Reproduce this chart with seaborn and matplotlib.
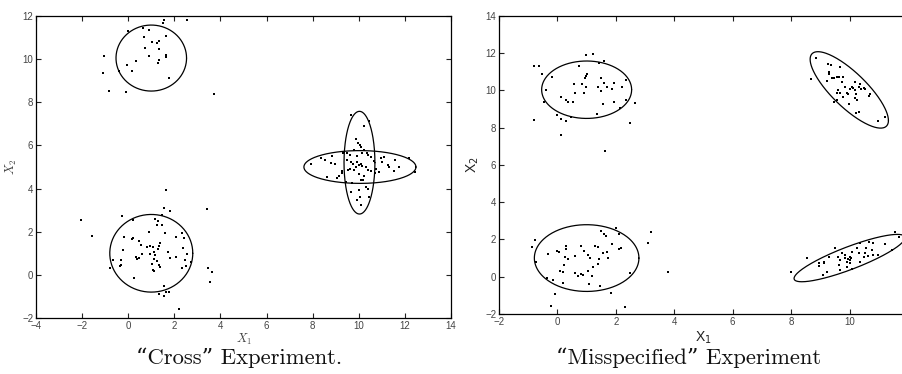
import numpy as np
import pandas as pd
import matplotlib
matplotlib.use("Agg")
import matplotlib.pyplot as plt
import seaborn as sns

# ---------------- "Cross" experiment data ----------------
cross_a_x = [1.57, 2.55, 1.51, 0.0, 0.62, 0.88, 1.65, 0.67, 1.03, 1.25, 1.35, 0.74, 1.32, -1.07,
             0.90, 1.64, 1.65, 1.33, 0.32, 1.29, -0.04, -1.09, 0.16, -0.42, 1.75, -0.83, -0.09, 3.71]
cross_a_y = [11.81, 11.81, 11.69, 11.32, 11.46, 11.35, 11.07, 11.01, 10.78, 10.76, 10.84, 10.53, 10.48, 10.16,
             10.16, 10.19, 10.11, 9.96, 9.91, 9.80, 9.74, 9.37, 9.46, 9.45, 9.11, 8.52, 8.46, 8.39]

cross_b_x = [1.65, 1.54, 1.80, 3.43, -2.06, -0.27, 0.20, 1.46, 1.17, 1.28, 1.25, 1.48, -1.59, -0.17,
             0.16, 0.20, 0.91, 1.59, 2.07, 2.33, 2.43, 0.45, 0.55, 0.80, 0.96, 1.07, 1.32, 1.36, 1.27,
             -0.23, 2.38, 0.61, 0.93, 1.10, 1.17, 1.72, 2.55, 0.35, 0.45, 0.38, -0.32, -0.64, 1.13, 1.25,
             1.83, 2.09, 2.48, 2.72, -0.32, -0.35, -0.81, 1.03, 1.33, 1.36, 2.33, 2.52, 1.07, 1.10, 0.26,
             3.48, 3.64, 3.56, 1.54, 1.65, 1.77, 1.33, 1.56, 2.20]
cross_b_y = [3.93, 3.12, 2.95, 3.03, 2.55, 2.73, 2.56, 2.77, 2.61, 2.49, 2.33, 2.30, 1.79, 1.76,
             1.68, 1.71, 1.99, 1.95, 1.76, 1.96, 1.71, 1.56, 1.37, 1.30, 1.34, 1.28, 1.34, 1.47, 1.22,
             1.17, 1.25, 0.99, 0.99, 1.06, 0.91, 1.06, 0.96, 0.83, 0.79, 0.72, 0.68, 0.68, 0.72, 0.63,
             0.76, 0.83, 0.68, 0.60, 0.48, 0.42, 0.32, 0.49, 0.48, 0.37, 0.32, 0.42, 0.21, 0.17, -0.14,
             0.32, 0.11, -0.33, -0.51, -0.79, -0.79, -0.88, -0.98, -1.58]

cross_c_x = [9.68, 10.45, 10.23, 9.87, 9.97, 10.06, 10.09, 9.80, 10.23, 10.35, 10.16, 9.48, 9.62, 9.91,
             10.42, 10.52, 8.85, 8.35, 8.52, 8.81, 8.99, 7.91, 10.96, 11.10, 11.58, 12.19, 10.99, 10.64,
             11.28, 11.32, 11.74, 12.46, 11.51, 9.51, 9.65, 9.77, 9.94, 10.01, 10.09, 10.16, 9.87, 9.62,
             9.54, 9.80, 10.30, 10.38, 10.52, 10.74, 10.88, 10.70, 9.29, 9.26, 8.61, 9.07, 10.01, 10.23,
             10.09, 10.20, 9.43, 9.72, 10.30, 10.42, 10.01, 9.65, 10.45, 10.06, 9.94, 10.09, 9.33, 9.14]
cross_c_y = [7.42, 7.14, 6.91, 6.28, 6.09, 6.01, 5.94, 5.81, 5.78, 5.66, 5.63, 5.63, 5.55, 5.50,
             5.55, 5.47, 5.50, 5.40, 5.32, 5.19, 5.13, 5.16, 5.40, 5.47, 5.32, 5.40, 5.24, 5.29,
             5.09, 5.01, 5.01, 4.78, 4.82, 5.32, 5.24, 5.13, 5.24, 5.09, 5.16, 5.04, 5.01, 4.93,
             4.85, 4.85, 5.01, 4.85, 4.82, 4.93, 4.78, 4.70, 4.82, 4.70, 4.54, 4.51, 4.67, 4.58,
             4.39, 4.42, 4.31, 4.24, 4.08, 4.00, 3.93, 3.85, 3.62, 3.59, 3.46, 3.23, 5.63, 4.58]

# fitted components (centre, half-extent in x / y, correlation)
cross_ell_cx = [1.0, 1.0, 10.05, 10.03]
cross_ell_cy = [10.05, 1.0, 5.0, 5.2]
cross_ell_hx = [1.53, 1.80, 2.43, 0.67]
cross_ell_hy = [1.53, 1.80, 0.76, 2.38]
cross_ell_rho = [0.0, 0.0, 0.0, 0.0]

# ---------------- "Misspecified" experiment data ----------------
mis_a_x = [0.97, 1.23, -0.79, -0.63, 0.74, 1.60, 1.42, -0.54, -0.20, 1.00, 0.97, 0.94, 1.49, 1.60,
           1.95, 0.56, 0.83, 0.97, 1.38, 1.69, 1.88, 2.20, 2.36, 1.49, -0.38, 0.60, 0.92, 0.12, 0.31,
           0.37, 0.52, -0.46, 1.95, 2.36, 2.66, 1.57, 2.14, 1.34, -0.03, 0.12, 0.31, 0.47, -0.79, 2.49,
           0.12, 1.63]
mis_a_y = [11.91, 11.95, 11.30, 11.32, 11.30, 11.56, 11.45, 10.89, 10.72, 10.89, 10.77, 10.64, 10.66, 10.41,
           10.41, 10.36, 10.36, 10.18, 10.20, 10.16, 10.07, 10.16, 10.55, 9.96, 10.02, 9.84, 9.84, 9.62, 9.48,
           9.37, 9.39, 9.39, 9.39, 9.48, 9.34, 9.25, 9.03, 8.73, 8.66, 8.46, 8.37, 8.55, 8.41, 8.23,
           7.62, 6.75]

mis_b_x = [2.01, 1.48, 1.60, 1.66, 2.12, 3.19, 3.09, -0.77, -0.87, 0.29, 0.29, 0.80, 1.30, 1.40,
           1.88, 2.10, 2.17, -0.02, 0.05, 0.92, 1.05, 1.55, 1.71, -0.31, 0.60, 0.26, 0.35, 1.12, 1.42,
           1.72, -0.73, 1.40, 0.24, 1.23, 0.09, 0.20, 0.60, 0.69, 0.81, 0.86, 1.04, 1.18, 2.49, 3.80,
           -0.34, -0.16, 0.20, 1.09, 1.46, -0.09, 1.82, -0.23, 2.31]
mis_b_y = [2.63, 2.47, 2.29, 2.18, 2.29, 2.40, 1.83, 1.97, 1.58, 1.63, 1.49, 1.65, 1.66, 1.58,
           1.74, 1.47, 1.52, 1.38, 1.31, 1.40, 1.16, 1.27, 1.31, 1.22, 1.11, 1.04, 0.93, 0.98, 0.95,
           1.02, 0.81, 0.68, 0.63, 0.54, 0.32, 0.23, 0.22, 0.06, 0.14, 0.09, 0.31, 0.04, 0.22, 0.23,
           -0.07, -0.18, -0.34, -0.41, -0.50, -0.91, -0.87, -1.57, -1.61]

mis_c_x = [8.85, 8.67, 9.26, 9.37, 9.68, 9.28, 9.30, 9.39, 9.48, 9.56, 9.64, 9.79, 9.23, 9.85,
           9.74, 10.17, 10.36, 10.08, 10.13, 10.02, 10.19, 10.31, 10.40, 10.48, 10.53, 9.62, 9.56,
           9.68, 9.91, 9.96, 10.23, 10.71, 10.65, 9.79, 10.17, 10.25, 9.56, 9.48, 9.99, 10.33, 10.21,
           10.97, 11.20]
mis_c_y = [11.72, 10.59, 11.41, 11.34, 11.27, 11.00, 10.86, 10.64, 10.68, 10.70, 10.73, 10.73, 10.52, 10.20,
           10.46, 10.43, 10.34, 10.20, 10.11, 10.05, 10.02, 10.20, 10.05, 10.11, 10.05, 10.02, 9.87,
           9.87, 9.87, 9.80, 9.80, 9.80, 9.70, 9.62, 9.57, 9.48, 9.48, 9.36, 9.27, 8.86, 8.77,
           8.37, 8.59]

mis_d_x = [11.56, 11.70, 8.54, 8.94, 8.96, 9.11, 9.14, 9.22, 9.08, 9.28, 9.51, 9.60, 9.68, 9.64,
           9.68, 9.74, 9.85, 9.85, 9.91, 9.96, 10.00, 10.02, 10.05, 10.08, 10.02, 10.08, 9.91, 10.25,
           10.31, 10.36, 10.48, 10.56, 10.53, 10.63, 10.65, 10.76, 10.79, 10.79, 10.99, 11.20, 11.45,
           10.36, 7.99]
mis_d_y = [2.38, 2.15, 0.99, 0.75, 0.58, 0.72, 0.79, 0.27, 0.09, 1.08, 1.52, 1.08, 0.90, 0.63,
           0.36, 1.26, 1.17, 1.00, 0.81, 0.93, 1.04, 0.90, 0.99, 1.33, 0.75, 0.40, 0.54, 1.52,
           1.26, 1.79, 1.08, 1.56, 1.26, 1.11, 1.88, 1.43, 1.79, 1.17, 1.17, 1.76, 1.43,
           0.81, 0.24]

mis_ell_cx = [1.0, 1.0, 9.99, 10.0]
mis_ell_cy = [10.03, 1.0, 10.02, 1.0]
mis_ell_hx = [1.54, 1.79, 1.34, 1.90]
mis_ell_hy = [1.54, 1.79, 2.05, 1.27]
mis_ell_rho = [0.0, 0.0, -0.80, 0.86]

cross_xticks = list(range(-4, 15, 2))
cross_yticks = list(range(-2, 13, 2))
mis_xticks = list(range(-2, 11, 2))
mis_yticks = list(range(-2, 15, 2))

# ---------------- drawing ----------------
sns.set_theme(style="ticks")
plt.rcParams["font.family"] = ["Liberation Sans", "DejaVu Sans"]
plt.rcParams["mathtext.fontset"] = "cm"

fig = plt.figure(figsize=(9.03, 3.74), dpi=100)
ax1 = fig.add_axes([36 / 903, 1 - 318 / 374, 415 / 903, 302 / 374])
ax2 = fig.add_axes([499 / 903, 1 - 314 / 374, 409 / 903, 298.3 / 374])


def scatter(ax, xs, ys):
    df = pd.DataFrame({"x": np.concatenate(xs), "y": np.concatenate(ys)})
    sns.scatterplot(data=df, x="x", y="y", ax=ax, color="black", s=3,
                    marker="s", linewidth=0, legend=False)


def ellipses(ax, cx, cy, hx, hy, rho):
    t = np.linspace(0, 2 * np.pi, 300)
    for a, b, rx, ry, r in zip(cx, cy, hx, hy, rho):
        ex = a + rx * np.cos(t)
        ey = b + ry * (r * np.cos(t) + np.sqrt(1 - r * r) * np.sin(t))
        ax.plot(ex, ey, color="black", lw=0.9)


scatter(ax1, [cross_a_x, cross_b_x, cross_c_x], [cross_a_y, cross_b_y, cross_c_y])
ellipses(ax1, cross_ell_cx, cross_ell_cy, cross_ell_hx, cross_ell_hy, cross_ell_rho)
scatter(ax2, [mis_a_x, mis_b_x, mis_c_x, mis_d_x], [mis_a_y, mis_b_y, mis_c_y, mis_d_y])
ellipses(ax2, mis_ell_cx, mis_ell_cy, mis_ell_hx, mis_ell_hy, mis_ell_rho)

ax1.set_xlim(-4, 14)
ax1.set_ylim(-2, 12)
ax1.set_xticks(cross_xticks)
ax1.set_yticks(cross_yticks)
ax2.set_xlim(-2, 12)
ax2.set_ylim(-2, 14)
ax2.set_xticks(mis_xticks)
ax2.set_yticks(mis_yticks)

for ax in (ax1, ax2):
    ax.tick_params(direction="in", length=3.5, width=0.8, labelsize=7,
                   labelcolor="#444444", color="#222222", top=True, right=True, pad=2)
    for sp in ax.spines.values():
        sp.set_visible(True)
        sp.set_linewidth(0.9)
        sp.set_color("black")
    ax.set_xlabel("")
    ax.set_ylabel("")

ax1.set_xlabel(r"$X_1$", fontsize=9, color="#444444", labelpad=1)
ax1.set_ylabel(r"$X_2$", fontsize=9, color="#444444", labelpad=2)
ax2.set_xlabel(r"X$_1$", fontsize=10, color="#222222", labelpad=2, math_fontfamily="dejavusans")
ax2.set_ylabel(r"X$_2$", fontsize=10, color="#222222", labelpad=3, math_fontfamily="dejavusans")

serif = ["cmr10", "DejaVu Serif"]
fig.text(239 / 903, 1 - 358 / 374, "\u201cCross\u201d Experiment.", ha="center", va="center",
         fontsize=16.3, family=serif, color="#111111")
fig.text(689 / 903, 1 - 358 / 374, "\u201cMisspecified\u201d Experiment", ha="center", va="center",
         fontsize=16.3, family=serif, color="#111111")

fig.savefig("out.png", dpi=100)
